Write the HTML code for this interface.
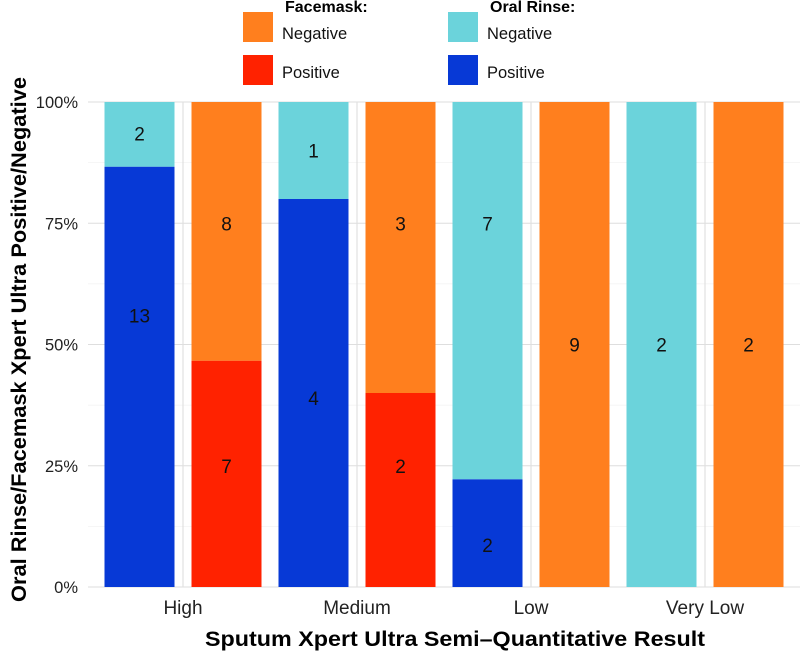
<!DOCTYPE html>
<html><head><meta charset="utf-8"><style>
body{margin:0;background:#fff;font-family:"Liberation Sans",Arial,sans-serif}
svg text{font-family:"Liberation Sans",Arial,sans-serif}
</style></head><body>
<svg id="c" width="800" height="655"></svg>
<script>
const categories=["High","Medium","Low","Very Low"];
const oralPos=[13,4,2,0];
const oralNeg=[2,1,7,2];
const maskPos=[7,2,0,0];
const maskNeg=[8,3,9,2];
const oralPosLabelPct=[56,39,8.7,0];
const oralNegLabelPct=[93.5,90,75,50];
const maskPosLabelPct=[25,25,0,0];
const maskNegLabelPct=[75,75,50,50];
const yTicks=[0,25,50,75,100];
const yTickLabels=["0%","25%","50%","75%","100%"];
const colors={oralPos:"#0739D6",oralNeg:"#6BD3DB",maskPos:"#FF2200",maskNeg:"#FF7F1E"};
const NS="http://www.w3.org/2000/svg";
const svg=document.getElementById('c');
const x0=88,x1=800,y0=587,y1=102;
const step=174,firstCenter=183,barW=70;
function xc(i){return firstCenter+i*step;}
function y(p){return y0-(y0-y1)*p/100;}
function el(t,a,txt){const e=document.createElementNS(NS,t);for(const k in a)e.setAttribute(k,a[k]);if(txt!=null)e.textContent=txt;svg.appendChild(e);return e;}
for(let p=12.5;p<100;p+=25){const g=el('line',{x1:x0,x2:x1,y1:y(p),y2:y(p),stroke:'#ececec','stroke-width':0.6});

}
yTicks.forEach((t,i)=>{const g=el('line',{x1:x0,x2:x1,y1:y(t),y2:y(t),stroke:'#dedede','stroke-width':1.1});


const l=el('text',{x:78,y:y(t)+6,'text-anchor':'end','font-size':16.5,fill:'#222'},yTickLabels[i]);

});
categories.forEach((c,i)=>{const g=el('line',{x1:xc(i),x2:xc(i),y1:y1,y2:y0,stroke:'#dedede','stroke-width':1.1});

});
function stack(cx,pos,neg,cp,cn,name,lp,ln){
  const tot=pos+neg;if(!tot)return;
  const pp=pos/tot*100;
  const segs=[[0,pp,pos,cp,'positive',lp],[pp,100,neg,cn,'negative',ln]];
  segs.forEach(s=>{if(!s[2])return;
    const r=el('rect',{x:cx-barW/2,y:y(s[1]),width:barW,height:y(s[0])-y(s[1]),fill:s[3]});
    
    
    const t=el('text',{x:cx,y:y(s[5])+7,'text-anchor':'middle','font-size':19,fill:'#111'},s[2]);
    
    });
}
categories.forEach((c,i)=>{
  stack(xc(i)-43.5,oralPos[i],oralNeg[i],colors.oralPos,colors.oralNeg,'oral-rinse',oralPosLabelPct[i],oralNegLabelPct[i]);
  stack(xc(i)+43.5,maskPos[i],maskNeg[i],colors.maskPos,colors.maskNeg,'facemask',maskPosLabelPct[i],maskNegLabelPct[i]);
  const t=el('text',{x:xc(i),y:614,'text-anchor':'middle','font-size':19,fill:'#222'},c);
  
  
});
let t=el('text',{x:205,y:646,'font-size':21,'font-weight':'bold',fill:'#000',textLength:500,lengthAdjust:'spacingAndGlyphs'},'Sputum Xpert Ultra Semi\u2013Quantitative Result');


t=el('text',{x:0,y:0,'font-size':21,'font-weight':'bold',fill:'#000',transform:'translate(26,602) rotate(-90)',textLength:525,lengthAdjust:'spacingAndGlyphs'},'Oral Rinse/Facemask Xpert Ultra Positive/Negative');


const leg=[[243,'Facemask:',[['Negative',colors.maskNeg],['Positive',colors.maskPos]],'facemask'],[448,'Oral Rinse:',[['Negative',colors.oralNeg],['Positive',colors.oralPos]],'oral-rinse']];
leg.forEach(L=>{
  const h=el('text',{x:L[0]+42,y:12,'font-size':16,'font-weight':'bold',fill:'#000'},L[1]);
  
  
  L[2].forEach((e,j)=>{
    const r=el('rect',{x:L[0],y:12+j*43,width:30,height:30,fill:e[1]});
    
    
    const tx=el('text',{x:L[0]+39,y:39+j*39,'font-size':16.5,fill:'#111'},e[0]);
    
    
  });
});
</script>
</body></html>
